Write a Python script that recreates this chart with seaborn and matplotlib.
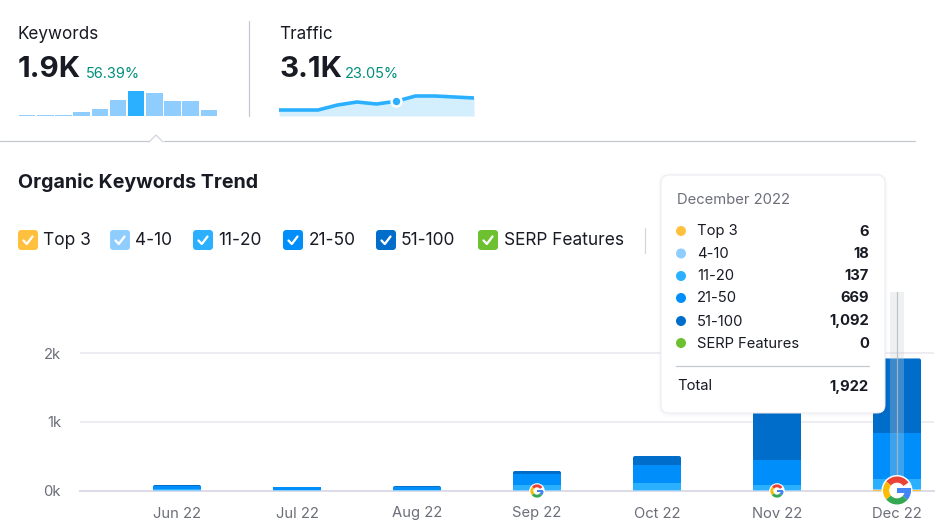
import numpy as np
import matplotlib
matplotlib.use("Agg")
import matplotlib.pyplot as plt
from matplotlib.patches import FancyBboxPatch, Rectangle, Circle, Wedge
import seaborn as sns

months = ["Jun 22", "Jul 22", "Aug 22", "Sep 22", "Oct 22", "Nov 22", "Dec 22"]
top3 = [0, 0, 0, 0, 0, 0, 6]
pos_4_10 = [2, 2, 2, 4, 9, 6, 18]
pos_11_20 = [14, 8, 8, 72, 97, 74, 137]
pos_21_50 = [56, 40, 38, 160, 261, 364, 669]
pos_51_100 = [8, 5, 17, 48, 135, 785, 1092]
series_names = ["Top 3", "4-10", "11-20", "21-50", "51-100", "SERP Features"]
series_colors = ["#ffc13d", "#8fcdff", "#2bb0ff", "#008ffa", "#006dca", "#6dc02f"]
tooltip_values = ["6", "18", "137", "669", "1,092", "0"]
tooltip_total = "1,922"
tooltip_title = "December 2022"
ytick_values = [0, 1000, 2000]
ytick_labels = ["0k", "1k", "2k"]
spark_bars = [1, 1, 1, 3.7, 6.7, 16, 25, 23, 15, 14.7, 5.7]
spark_labels = list("abcdefghijk")
spark_line = [6, 6, 6, 11, 14, 12, 14.7, 20, 20, 19, 18]

W, H = 945, 528
sns.set_theme(style="white")
plt.rcParams["font.family"] = ["Inter", "DejaVu Sans"]
plt.rcParams["axes.unicode_minus"] = False

def px(p):
    return p * 72 / 100

fig = plt.figure(figsize=(W / 100, H / 100), dpi=100, facecolor="white")

def axes_px(x0, y0, x1, y1, **kw):
    return fig.add_axes([x0 / W, 1 - y1 / H, (x1 - x0) / W, (y1 - y0) / H], **kw)

# ---------- main stacked bars ----------
ax = axes_px(80, 290, 934, 490.5)
layers = np.array([top3, pos_4_10, pos_11_20, pos_21_50, pos_51_100], dtype=float)
cumulative = np.cumsum(layers, axis=0)
for i in range(4, -1, -1):
    sns.barplot(x=months, y=cumulative[i], color=series_colors[i], saturation=1,
                width=0.4, ax=ax, errorbar=None, zorder=3, edgecolor="none", linewidth=0)
n_top = len(months)
top_bars = list(ax.patches[:n_top])

ax.set_xlim(-97 / 120, 6 + 37 / 120)
ax.set_ylim(0, 200.5 / 68.7 * 1000)
ax.set_yticks(ytick_values)
ax.set_yticklabels(ytick_labels)
ax.yaxis.grid(True, color="#e8e8ef", lw=px(1.6), zorder=0)
ax.set_axisbelow(True)
ax.set_ylabel("")
for s in ["top", "right", "left"]:
    ax.spines[s].set_visible(False)
ax.spines["bottom"].set_color("#dcdce6")
ax.spines["bottom"].set_linewidth(px(2))
ax.tick_params(axis="x", length=0, pad=px(27), labelsize=px(14.8), labelcolor="#6c6e79")
ax.tick_params(axis="y", length=0, pad=px(19), labelsize=px(14.8), labelcolor="#6c6e79")
for lab in ax.get_xticklabels():
    lab.set_verticalalignment("baseline")

# ---------- overlay in pixel coordinates ----------
ov = fig.add_axes([0, 0, 1, 1], zorder=5)
ov.set_xlim(0, W)
ov.set_ylim(H, 0)
ov.axis("off")
ov.patch.set_alpha(0)

# rounded tops of the bars (clip in pixel coordinates)
fig.canvas.draw()
inv = ov.transData.inverted()
for p in top_bars:
    (x0, y0), (x1, y1) = inv.transform(p.get_window_extent().get_points())
    ya, yb = min(y0, y1), max(y0, y1)
    clip = FancyBboxPatch((x0, ya), x1 - x0, yb - ya + 6, boxstyle="round,pad=0,rounding_size=2",
                          transform=ov.transData)
    p.set_clip_path(clip)

TXT = "#181a24"
GREY = "#6c6e79"
LINE = "#c4c7cf"
GREEN = "#008f7a"

def text(x, y, s, size, color=TXT, weight="normal", ha="left", va="center"):
    ov.text(x, y + 1, s, fontsize=px(size), color=color, fontweight=weight, ha=ha, va=va, zorder=20)

# header
text(17.5, 33.5, "Keywords", 17.1)
text(17.5, 68.5, "1.9K", 29.5, weight="bold")
text(86, 73.5, "56.39%", 14.6, color=GREEN)
text(279.5, 33.5, "Traffic", 17.1)
text(279.5, 68.5, "3.1K", 29.5, weight="bold")
text(345, 73.5, "23.05%", 14.6, color=GREEN)
ov.plot([248.5, 248.5], [21, 116], color=LINE, lw=px(1.2))
ov.plot([0, 149], [141, 141], color=LINE, lw=px(1.2))
ov.plot([149, 156, 163], [142, 135, 142], color="#d2d4da", lw=px(1.2))
ov.plot([164, 915], [141, 141], color=LINE, lw=px(1.2))

# legend checkboxes
text(18, 182, "Organic Keywords Trend", 19.6, weight="bold")
box_x = [18, 110, 193, 283, 376, 478]
label_x = [43, 135, 218, 309, 401, 504]
for bx, lx, name, col in zip(box_x, label_x, series_names, series_colors):
    ov.add_patch(FancyBboxPatch((bx, 230), 20, 20, boxstyle="round,pad=0,rounding_size=3.5",
                                fc=col, ec="none", zorder=10))
    ov.plot([bx + 5.5, bx + 8.8, bx + 14.5], [240.5, 244, 236.5], color="white",
            lw=px(2.3), solid_capstyle="round", solid_joinstyle="round", zorder=11)
    text(lx, 239.5, name, 17.3)
ov.plot([645, 645], [228, 253], color="#d5d6dc", lw=px(1.2))

# crosshair over December
ov.add_patch(Rectangle((890, 292), 14, 198.5, fc="#c8ced2", ec="none", alpha=0.3, zorder=6))
ov.plot([897, 897], [292, 490], color="#b4bbc1", lw=px(1.2), alpha=0.85, zorder=6)

# Google icons
def google(cx, cy, r, white):
    ov.add_patch(Circle((cx, cy), white, fc="white", ec="none", zorder=12))
    w = r * 0.44
    # visual angles (counter-clockwise from east); y axis is inverted so they are negated
    arcs = [(35, 140, "#ea4335"), (140, 220, "#fbbc05"), (220, 318, "#34a853"), (318, 360, "#4285f4")]
    for a1, a2, c in arcs:
        ov.add_patch(Wedge((cx, cy), r, -a2, -a1, width=w, fc=c, ec="none", zorder=13))
    ov.add_patch(Rectangle((cx + 0.02 * r, cy - 0.2 * r), 0.96 * r, 0.4 * r, fc="#4285f4", ec="none", zorder=13))

google(537, 491, 6.6, 7.8)
google(777, 491, 6.6, 7.8)
google(897, 490.5, 14, 15.5)

# tooltip
for grow, alpha in [(3, 0.012), (1.5, 0.02)]:
    ov.add_patch(FancyBboxPatch((661 - grow, 175 - grow + 1), 224 + 2 * grow, 238 + 2 * grow,
                                boxstyle="round,pad=0,rounding_size=%g" % (8 + grow),
                                fc="#50506a", ec="none", alpha=alpha, zorder=14))
ov.add_patch(FancyBboxPatch((661, 175), 224, 238, boxstyle="round,pad=0,rounding_size=8",
                            fc="white", ec="#ebebf1", lw=px(1), zorder=15))
text(677, 199.5, tooltip_title, 14.8, color=GREY)
row_y = [231, 253.5, 276, 298, 321, 343]
for y, name, val, col in zip(row_y, series_names, tooltip_values, series_colors):
    ov.add_patch(Circle((681, y), 5, fc=col, ec="none", zorder=18))
    text(697, y - 0.5, name, 14.8)
    text(869, y - 0.5, val, 14.8, weight="bold", ha="right")
ov.plot([676, 869], [365.5, 365.5], color=LINE, lw=px(1.2), zorder=18)
text(677, 385.5, "Total", 14.8)
text(869, 386, tooltip_total, 14.8, weight="bold", ha="right")

# ---------- keyword sparkline ----------
ax_s = axes_px(18, 86, 218, 116)
spark_palette = [series_colors[2] if i == 6 else series_colors[1] for i in range(len(spark_bars))]
sns.barplot(x=spark_labels, y=spark_bars, hue=spark_labels, palette=spark_palette, saturation=1,
            width=0.91, legend=False, ax=ax_s, errorbar=None, edgecolor="none", linewidth=0)
ax_s.set_xlim(-0.5, 10.5)
ax_s.set_ylim(0, 30)
ax_s.axis("off")

# ---------- traffic sparkline ----------
ax_t = axes_px(279, 86, 474, 116)
xs = np.arange(len(spark_line))
ax_t.fill_between(xs, spark_line, color="#d3effe", lw=0)
sns.lineplot(x=xs, y=spark_line, color=series_colors[2], lw=px(3.6), ax=ax_t, errorbar=None)
ax_t.scatter([6], [spark_line[6]], s=px(11) ** 2, color="white", zorder=5, clip_on=False)
ax_t.scatter([6], [spark_line[6]], s=px(6) ** 2, color=series_colors[2], zorder=6, clip_on=False)
ax_t.set_xlim(0, len(spark_line) - 1)
ax_t.set_ylim(0, 30)
ax_t.axis("off")

fig.savefig("out.png", dpi=100, facecolor="white")
